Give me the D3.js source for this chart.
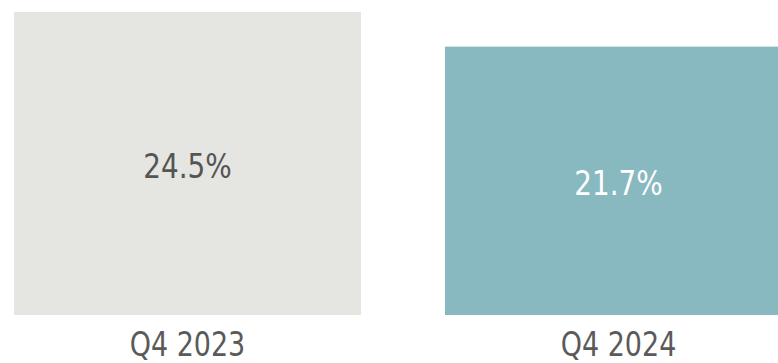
<!DOCTYPE html>
<html>
<head>
<meta charset="utf-8">
<script src="https://cdn.jsdelivr.net/npm/d3@7"></script>
<style>
  body { margin: 0; background: #fff; overflow: hidden; }
  svg { display: block; }
</style>
</head>
<body>
<script>
const categories = ['Q4 2023', 'Q4 2024'];
const values = [24.5, 21.7];
const barColors = ['#e5e5e1', '#88b9c0'];
const valueTextColors = ['#555555', '#ffffff'];

const width = 778, height = 363;
const margin = {top: 12, bottom: 48, left: 14};
const fontFamily = '"DejaVu Sans Condensed", "DejaVu Sans", sans-serif';
const stretch = 1.1; // glyphs in the original look a bit taller than wide

const svg = d3.select('body').append('svg')
    .attr('width', width)
    .attr('height', height);

// second bar runs past the right edge in the original, so the range goes beyond the svg
const xScale = d3.scaleBand()
    .domain(categories)
    .range([margin.left, 792])
    .paddingInner(0.195)
    .paddingOuter(0);

const yScale = d3.scaleLinear()
    .domain([0, d3.max(values)])
    .range([height - margin.bottom, margin.top]);

const items = categories.map((c, i) => ({label: c, value: values[i], color: barColors[i], textColor: valueTextColors[i]}));

const bars = svg.selectAll('g.bar').data(items).enter().append('g').attr('class', 'bar');

bars.append('rect')
    .attr('x', d => xScale(d.label))
    .attr('y', d => yScale(d.value))
    .attr('width', xScale.bandwidth())
    .attr('height', d => yScale(0) - yScale(d.value))
    .attr('fill', d => d.color);

bars.append('text')
    .attr('transform', d => 'translate(' + (xScale(d.label) + xScale.bandwidth() / 2) + ','
        + ((yScale(d.value) + yScale(0)) / 2 + 14) + ') scale(1,' + stretch + ')')
    .attr('text-anchor', 'middle')
    .attr('fill', d => d.textColor)
    .style('font-family', fontFamily)
    .style('font-size', '31px')
    .text(d => d.value.toFixed(1) + '%');

// category labels under the bars
svg.selectAll('text.cat').data(categories).enter().append('text')
    .attr('class', 'cat')
    .attr('transform', d => 'translate(' + (xScale(d) + xScale.bandwidth() / 2) + ','
        + (yScale(0) + 41) + ') scale(1,' + stretch + ')')
    .attr('text-anchor', 'middle')
    .attr('fill', '#5a5a5a')
    .style('font-family', fontFamily)
    .style('font-size', '30px')
    .text(d => d);
</script>
</body>
</html>
